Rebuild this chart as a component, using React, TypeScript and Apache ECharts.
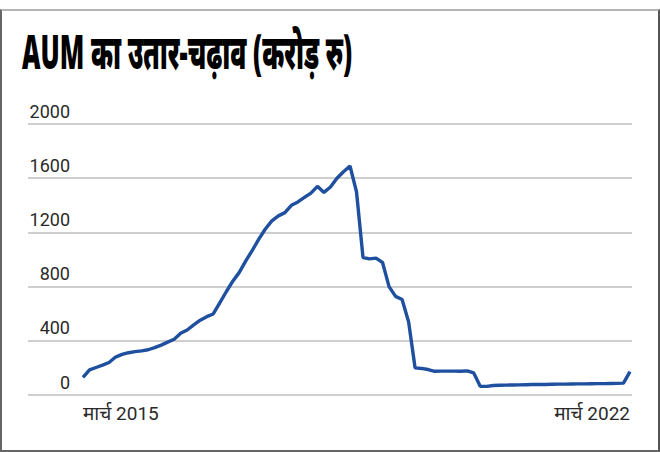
import React, { useEffect, useRef } from "react";
import * as echarts from "echarts";

const titleText = "AUM का उतार-चढ़ाव (करोड़ रु)";
const xLabels = ["मार्च 2015", "मार्च 2022"];
const yTicks = [0, 400, 800, 1200, 1600, 2000];

// Monthly AUM (crore Rs), March 2015 – March 2022
const aum = [
  130, 185, 203, 220, 240, 280, 300, 312, 320, 326,
  334, 350, 368, 390, 412, 455, 480, 518, 552, 578,
  598, 680, 762, 840, 905, 990, 1068, 1150, 1225, 1285,
  1322, 1346, 1400, 1425, 1458, 1490, 1540, 1495, 1535, 1600,
  1648, 1690, 1500, 1015, 1005, 1010, 978, 800, 728, 705,
  540, 200, 196, 188, 175, 176, 176, 176, 175, 178,
  163, 65, 64, 70, 72, 73, 74, 75, 76, 77,
  78, 78, 79, 80, 80, 81, 82, 82, 83, 84,
  84, 85, 86, 88, 172,
];

const months: string[] = aum.map((_, i) => {
  const m = 2 + i; // March = index 2
  const y = 2015 + Math.floor(m / 12);
  return `${y}-${String((m % 12) + 1).padStart(2, "0")}`;
});

export default function App() {
  const ref = useRef<HTMLDivElement>(null);
  useEffect(() => {
    if (!ref.current) return;
    const chart = echarts.init(ref.current, undefined, { renderer: "svg" });
    const last = aum.length - 1;
    const labelFont = {
      color: "#2a2a2a",
      fontSize: 18,
      fontFamily: "Roboto, 'Noto Sans', sans-serif",
      fontWeight: 400,
    };
    chart.setOption({
      animation: false,
      backgroundColor: "transparent",
      graphic: [
        {
          type: "text",
          x: 22,
          y: 26,
          scaleX: 0.53,
          style: {
            text: titleText,
            font: "900 48px 'Noto Sans', sans-serif",
            fill: "#000",
          },
        },
      ],
      grid: [
        { left: 28, right: 28, top: 124, bottom: 57 },
        { left: 83, right: 30, top: 124, bottom: 57 },
      ],
      xAxis: [
        { gridIndex: 0, type: "value", show: false, min: 0, max: 1 },
        {
          gridIndex: 1,
          type: "category",
          data: months,
          boundaryGap: false,
          axisLine: { show: false },
          axisTick: { show: false },
          splitLine: { show: false },
          axisLabel: {
            interval: (idx: number) => idx === 0 || idx === last,
            formatter: (_v: string, idx: number) =>
              idx === 0 ? xLabels[0] : xLabels[1],
            alignMinLabel: "left",
            alignMaxLabel: "right",
            margin: 9,
            ...labelFont,
            fontSize: 19,
          },
        },
      ],
      yAxis: [
        {
          gridIndex: 0,
          type: "value",
          min: yTicks[0],
          max: yTicks[yTicks.length - 1],
          interval: 400,
          axisLine: { show: false },
          axisTick: { show: false },
          splitLine: { lineStyle: { color: "#bfbfbf", width: 1.5 } },
          axisLabel: {
            align: "right",
            verticalAlign: "bottom",
            margin: -42,
            padding: [0, 0, 4, 0],
            formatter: (v: number) => String(v),
            ...labelFont,
          },
        },
        {
          gridIndex: 1,
          type: "value",
          min: yTicks[0],
          max: yTicks[yTicks.length - 1],
          show: false,
        },
      ],
      series: [
        {
          type: "line",
          xAxisIndex: 1,
          yAxisIndex: 1,
          data: aum,
          symbol: "none",
          lineStyle: { color: "#1f4f9f", width: 3.4 },
        },
      ],
    });
    return () => chart.dispose();
  }, []);

  return (
    <>
      <div
        style={{
          position: "fixed",
          left: 0,
          top: 9,
          width: 660,
          height: 443,
          boxSizing: "border-box",
          borderTop: "2px solid #b5b5b5",
          borderLeft: "2px solid #666",
          borderRight: "2px solid #555",
          borderBottom: "2px solid #666",
          background: "#fff",
        }}
      />
      <div
        ref={ref}
        style={{ position: "fixed", left: 0, top: 0, width: 660, height: 452 }}
      />
    </>
  );
}
